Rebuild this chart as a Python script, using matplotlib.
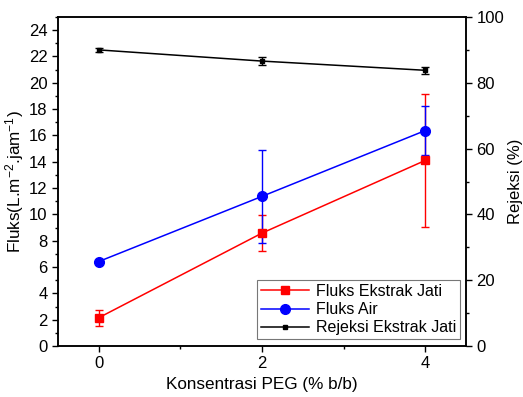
import matplotlib
matplotlib.use("Agg")
import matplotlib.pyplot as plt
from matplotlib.ticker import MultipleLocator
from matplotlib.lines import Line2D

plt.rcParams['font.family'] = ['Liberation Sans', 'DejaVu Sans']
plt.rcParams['mathtext.fontset'] = 'custom'
plt.rcParams['mathtext.rm'] = 'Liberation Sans'
plt.rcParams['mathtext.it'] = 'Liberation Sans:italic'

peg = [0, 2, 4]
fluks_jati = [2.15, 8.58, 14.1]
fluks_jati_err = [0.6, 1.35, 5.07]
fluks_air = [6.42, 11.37, 16.37]
fluks_air_err = [0.1, 3.55, 1.85]
rejeksi = [90.0, 86.6, 83.8]
rejeksi_err = [0.6, 1.3, 1.0]
labels = ['Fluks Ekstrak Jati', 'Fluks Air', 'Rejeksi Ekstrak Jati']

fig = plt.figure(figsize=(5.23, 3.97), dpi=100)
ax = fig.add_axes([58/523, 1-346/397, (466-58)/523, (346-17)/397])
ax2 = ax.twinx()

ax.errorbar(peg, fluks_jati, yerr=fluks_jati_err, color='#ff0000', marker='s', ms=6,
            lw=1.1, capsize=3, elinewidth=1)
ax.errorbar(peg, fluks_air, yerr=fluks_air_err, color='#0000ff', marker='o', ms=7,
            lw=1.1, capsize=3, elinewidth=1)
ax2.errorbar(peg, rejeksi, yerr=rejeksi_err, color='black', marker='s', ms=3.5,
             lw=1.1, capsize=3, elinewidth=1)

ax.set_xlim(-0.5, 4.5)
ax.set_ylim(0, 25)
ax2.set_ylim(0, 100)
ax.xaxis.set_major_locator(MultipleLocator(2))
ax.xaxis.set_minor_locator(MultipleLocator(1))
ax.yaxis.set_major_locator(MultipleLocator(2))
ax.yaxis.set_minor_locator(MultipleLocator(1))
ax2.yaxis.set_major_locator(MultipleLocator(20))
ax2.yaxis.set_minor_locator(MultipleLocator(10))

for a in (ax, ax2):
    a.tick_params(which='major', direction='out', length=4, width=1, labelsize=12)
    a.tick_params(which='minor', direction='out', length=2.5, width=1)
    for s in a.spines.values():
        s.set_linewidth(1.1)

ax.set_xlabel('Konsentrasi PEG (% b/b)', fontsize=12.3)
ax.set_ylabel('Fluks(L.m$^{-2}$.jam$^{-1}$)', fontsize=12.3, labelpad=2)
ax2.set_ylabel('Rejeksi (%)', fontsize=12, labelpad=3)

handles = [
    Line2D([], [], color='#ff0000', marker='s', ms=6, lw=1.1),
    Line2D([], [], color='#0000ff', marker='o', ms=7, lw=1.1),
    Line2D([], [], color='black', marker='s', ms=3.5, lw=1.1),
]
leg = ax.legend(handles, labels,
                loc='lower right', bbox_to_anchor=(0.985, 0.02), fontsize=11.5, frameon=True,
                fancybox=False, edgecolor='#555555', borderpad=0.25, handlelength=3,
                handletextpad=0.4, labelspacing=0.2, borderaxespad=0)
leg.get_frame().set_linewidth(0.8)

fig.savefig('out.png', dpi=100)
